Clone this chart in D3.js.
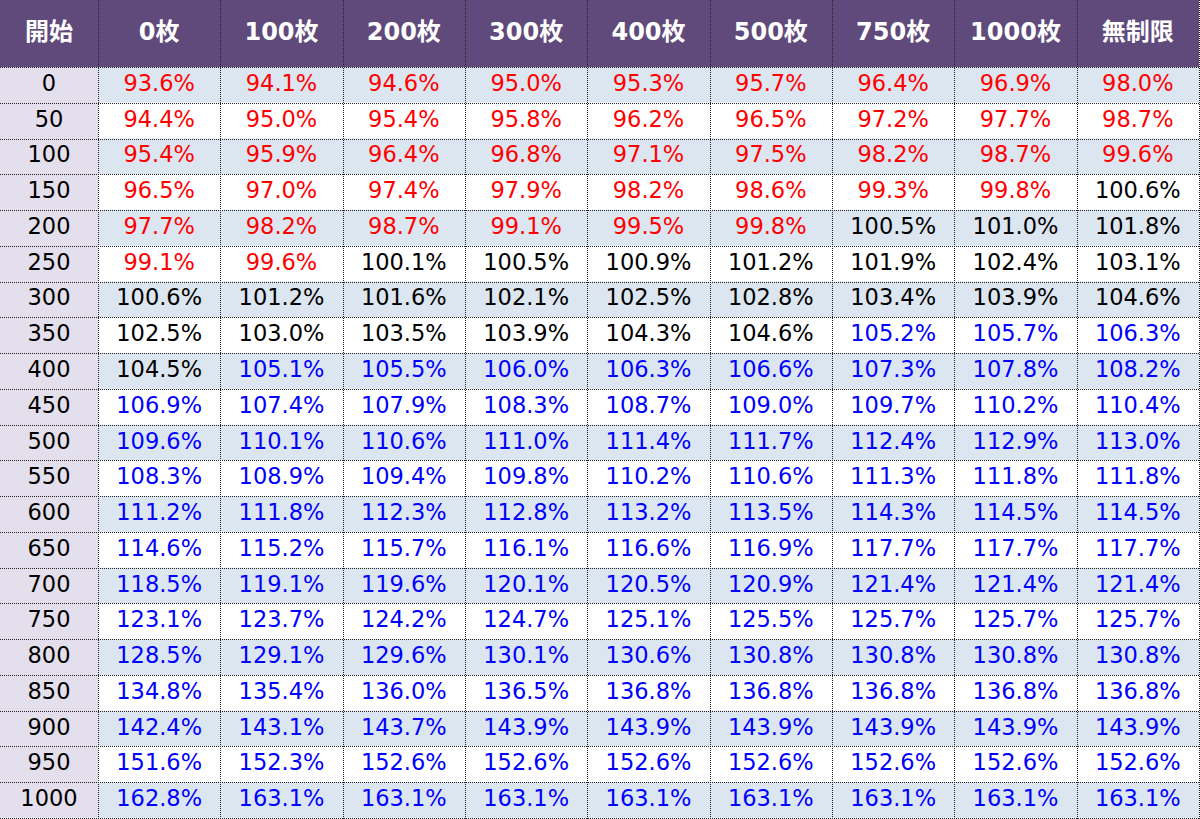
<!DOCTYPE html>
<html><head><meta charset="utf-8">
<script src="https://cdn.jsdelivr.net/npm/d3@7"></script>
<style>body{margin:0;background:#fff;}svg{display:block;}</style>
</head><body>
<svg id="chart" width="1200" height="819"></svg>
<script>
const cornerLabel = "開始";
const columns = ["0枚","100枚","200枚","300枚","400枚","500枚","750枚","1000枚","無制限"];
const rowLabels = ["0","50","100","150","200","250","300","350","400","450","500","550","600","650","700","750","800","850","900","950","1000"];
const r0    = [93.6,94.1,94.6,95.0,95.3,95.7,96.4,96.9,98.0];
const r50   = [94.4,95.0,95.4,95.8,96.2,96.5,97.2,97.7,98.7];
const r100  = [95.4,95.9,96.4,96.8,97.1,97.5,98.2,98.7,99.6];
const r150  = [96.5,97.0,97.4,97.9,98.2,98.6,99.3,99.8,100.6];
const r200  = [97.7,98.2,98.7,99.1,99.5,99.8,100.5,101.0,101.8];
const r250  = [99.1,99.6,100.1,100.5,100.9,101.2,101.9,102.4,103.1];
const r300  = [100.6,101.2,101.6,102.1,102.5,102.8,103.4,103.9,104.6];
const r350  = [102.5,103.0,103.5,103.9,104.3,104.6,105.2,105.7,106.3];
const r400  = [104.5,105.1,105.5,106.0,106.3,106.6,107.3,107.8,108.2];
const r450  = [106.9,107.4,107.9,108.3,108.7,109.0,109.7,110.2,110.4];
const r500  = [109.6,110.1,110.6,111.0,111.4,111.7,112.4,112.9,113.0];
const r550  = [108.3,108.9,109.4,109.8,110.2,110.6,111.3,111.8,111.8];
const r600  = [111.2,111.8,112.3,112.8,113.2,113.5,114.3,114.5,114.5];
const r650  = [114.6,115.2,115.7,116.1,116.6,116.9,117.7,117.7,117.7];
const r700  = [118.5,119.1,119.6,120.1,120.5,120.9,121.4,121.4,121.4];
const r750  = [123.1,123.7,124.2,124.7,125.1,125.5,125.7,125.7,125.7];
const r800  = [128.5,129.1,129.6,130.1,130.6,130.8,130.8,130.8,130.8];
const r850  = [134.8,135.4,136.0,136.5,136.8,136.8,136.8,136.8,136.8];
const r900  = [142.4,143.1,143.7,143.9,143.9,143.9,143.9,143.9,143.9];
const r950  = [151.6,152.3,152.6,152.6,152.6,152.6,152.6,152.6,152.6];
const r1000 = [162.8,163.1,163.1,163.1,163.1,163.1,163.1,163.1,163.1];
const values = [r0,r50,r100,r150,r200,r250,r300,r350,r400,r450,r500,r550,r600,r650,r700,r750,r800,r850,r900,r950,r1000];

const labelW = 98, headH = 67, right = 1199, bottom = 818;
const svg = d3.select("#chart");

const x = d3.scaleBand().domain(columns).range([labelW, right]);
const y = d3.scaleBand().domain(rowLabels).range([headH, bottom]);

const headerFill = "#604A7B", labelFill = "#E4DFEC", stripe = "#DCE6F1";
const numFont = "'DejaVu Sans', sans-serif";
const headFont = "'DejaVu Sans', 'Noto Sans CJK JP', sans-serif";
const color = v => v < 100 ? "#FF0000" : (v < 105 ? "#000000" : "#0000FF");

svg.append("rect").attr("x",0).attr("y",0).attr("width",right).attr("height",headH).attr("fill",headerFill);
svg.append("rect").attr("x",0).attr("y",headH).attr("width",labelW).attr("height",bottom-headH).attr("fill",labelFill);
svg.selectAll("rect.row").data(rowLabels).join("rect").attr("class","row")
  .attr("x",labelW).attr("y",d=>y(d)).attr("width",right-labelW).attr("height",y.bandwidth())
  .attr("fill",(d,i)=> i%2===0 ? stripe : "#FFFFFF");

const headY = 32;
svg.append("text").attr("x",labelW/2).attr("y",headY).text(cornerLabel)
  .attr("text-anchor","middle").attr("dominant-baseline","central")
  .attr("font-family",headFont).attr("font-weight","bold").attr("font-size",24).attr("fill","#fff");
svg.selectAll("text.col").data(columns).join("text").attr("class","col")
  .attr("x",d=>x(d)+x.bandwidth()/2).attr("y",headY).text(d=>d)
  .attr("text-anchor","middle").attr("dominant-baseline","central")
  .attr("font-family",headFont).attr("font-weight","bold").attr("font-size",24).attr("fill","#fff");

const base = d => y(d)+y.bandwidth()/2+6;
svg.selectAll("text.rl").data(rowLabels).join("text").attr("class","rl")
  .attr("x",labelW/2).attr("y",base).text(d=>d)
  .attr("text-anchor","middle")
  .attr("font-family",numFont).attr("font-size",22.5).attr("fill","#000");

const cells = [];
values.forEach((row,i)=>row.forEach((v,j)=>cells.push({r:rowLabels[i],c:columns[j],v})));
svg.selectAll("text.cell").data(cells).join("text").attr("class","cell")
  .attr("x",d=>x(d.c)+x.bandwidth()/2).attr("y",d=>base(d.r))
  .text(d=>d.v.toFixed(1)+"%")
  .attr("text-anchor","middle")
  .attr("font-family",numFont).attr("font-size",22.5).attr("fill",d=>color(d.v));

const vx = [labelW, ...columns.map(c=>x(c)+x.bandwidth())];
svg.selectAll("line.v").data(vx).join("line").attr("class","v")
  .attr("x1",d=>Math.round(d)+0.5).attr("x2",d=>Math.round(d)+0.5).attr("y1",0).attr("y2",bottom+1)
  .attr("stroke","#222").attr("stroke-width",1).attr("stroke-dasharray","1,1");
const hy = [headH, ...rowLabels.map(r=>y(r)+y.bandwidth())];
svg.selectAll("line.h").data(hy).join("line").attr("class","h")
  .attr("x1",0).attr("x2",right+1).attr("y1",d=>Math.round(d)+0.5).attr("y2",d=>Math.round(d)+0.5)
  .attr("stroke","#222").attr("stroke-width",1).attr("stroke-dasharray","1,1");
</script>
</body></html>
